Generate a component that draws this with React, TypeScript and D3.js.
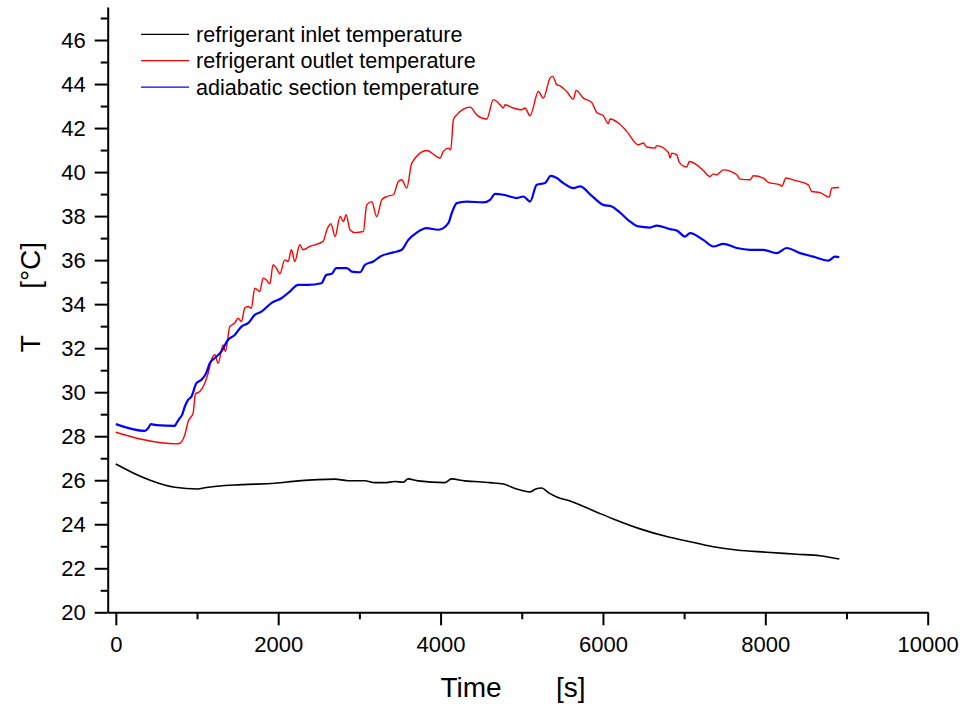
import React, { useEffect, useRef } from 'react';
import * as d3 from 'd3';

// time [s] / temperature [°C]
const inletTime = [0, 315, 727, 1013, 1096, 1547, 1958, 2245, 2697, 2860, 3066, 3190, 3313, 3436, 3538, 3600, 3723, 4052, 4133, 4298, 4421, 4609, 4773, 4938, 5102, 5164, 5246, 5328, 5431, 5595, 5924, 6128, 6457, 6786, 7032, 7360, 7648, 8017, 8387, 8673, 8911];
const inletTemp = [26.74, 26.16, 25.68, 25.6, 25.66, 25.8, 25.86, 25.97, 26.05, 25.98, 25.98, 25.89, 25.89, 25.94, 25.91, 26.06, 25.97, 25.89, 26.06, 25.97, 25.94, 25.89, 25.83, 25.6, 25.47, 25.59, 25.65, 25.44, 25.24, 25.06, 24.55, 24.24, 23.79, 23.44, 23.24, 22.98, 22.83, 22.73, 22.64, 22.57, 22.42];

const outletTime = [0, 315, 747, 788, 850, 890, 952, 980, 1034, 1096, 1137, 1178, 1219, 1260, 1321, 1350, 1404, 1465, 1506, 1547, 1588, 1630, 1670, 1711, 1773, 1814, 1855, 1897, 1937, 1978, 2020, 2081, 2122, 2163, 2204, 2266, 2307, 2389, 2553, 2600, 2650, 2700, 2762, 2803, 2836, 2885, 2947, 3049, 3090, 3152, 3213, 3276, 3337, 3419, 3480, 3522, 3584, 3645, 3830, 3994, 4034, 4096, 4125, 4158, 4200, 4281, 4364, 4446, 4569, 4650, 4733, 4773, 4794, 4897, 5000, 5040, 5102, 5205, 5266, 5348, 5382, 5431, 5472, 5554, 5636, 5669, 5759, 5862, 5924, 6005, 6067, 6087, 6190, 6293, 6436, 6498, 6539, 6642, 6662, 6806, 6827, 6848, 6909, 6941, 7032, 7064, 7155, 7237, 7319, 7360, 7401, 7483, 7648, 7689, 7812, 7852, 7975, 8037, 8181, 8202, 8254, 8366, 8530, 8571, 8673, 8788, 8817, 8911];
const outletTemp = [28.18, 27.86, 27.65, 27.68, 28.06, 28.66, 29.05, 29.92, 30.03, 30.41, 30.86, 31.47, 31.7, 31.32, 32.15, 31.85, 32.98, 33.14, 33.36, 33.21, 33.82, 33.89, 33.82, 34.73, 34.57, 35.18, 35.1, 34.92, 35.79, 35.64, 35.38, 36.01, 35.94, 36.47, 35.94, 36.7, 36.47, 36.62, 36.85, 37.38, 37.65, 37.07, 37.98, 37.75, 38.06, 37.38, 37.25, 37.3, 38.51, 38.66, 37.98, 38.74, 38.89, 38.97, 39.57, 39.65, 39.27, 40.41, 40.98, 40.64, 40.94, 41.09, 41.01, 42.38, 42.6, 42.86, 42.95, 42.6, 42.41, 43.29, 43.06, 42.91, 43.06, 42.91, 42.83, 42.91, 42.56, 43.66, 43.36, 44.27, 44.35, 43.97, 43.92, 43.66, 43.32, 43.71, 43.36, 43.16, 42.71, 42.56, 42.2, 42.41, 42.23, 41.85, 41.24, 41.32, 41.14, 41.09, 41.2, 40.89, 40.64, 40.86, 40.78, 40.44, 40.23, 40.48, 40.33, 40.07, 39.8, 39.92, 39.88, 40.1, 39.88, 39.68, 39.65, 39.83, 39.73, 39.53, 39.42, 39.35, 39.73, 39.62, 39.42, 39.12, 39.07, 38.86, 39.27, 39.3];

const adiabaticTime = [0, 357, 398, 431, 500, 727, 747, 788, 816, 850, 890, 931, 993, 1054, 1116, 1157, 1219, 1301, 1383, 1465, 1547, 1630, 1711, 1793, 1916, 2039, 2143, 2245, 2368, 2532, 2594, 2660, 2715, 2845, 2906, 3009, 3070, 3173, 3255, 3419, 3522, 3603, 3707, 3830, 3973, 4096, 4138, 4200, 4323, 4528, 4610, 4672, 4773, 4938, 5020, 5102, 5185, 5287, 5357, 5431, 5513, 5636, 5718, 5862, 6005, 6108, 6211, 6334, 6436, 6580, 6662, 6827, 6909, 7012, 7073, 7237, 7360, 7483, 7648, 7812, 7975, 8140, 8263, 8427, 8591, 8776, 8858, 8911];
const adiabaticTemp = [28.55, 28.24, 28.36, 28.55, 28.5, 28.47, 28.59, 28.82, 28.97, 29.35, 29.65, 29.8, 30.41, 30.56, 30.89, 31.32, 31.55, 31.85, 32.38, 32.6, 32.98, 33.14, 33.51, 33.66, 34.05, 34.27, 34.57, 34.88, 34.88, 34.95, 35.33, 35.38, 35.64, 35.64, 35.48, 35.45, 35.79, 35.94, 36.16, 36.35, 36.47, 36.92, 37.25, 37.45, 37.38, 37.68, 38.14, 38.59, 38.66, 38.62, 38.74, 39.01, 38.97, 38.82, 38.89, 38.66, 39.42, 39.5, 39.83, 39.73, 39.5, 39.27, 39.35, 38.92, 38.51, 38.44, 38.16, 37.75, 37.53, 37.48, 37.57, 37.41, 37.35, 37.07, 37.23, 36.92, 36.62, 36.74, 36.55, 36.47, 36.47, 36.32, 36.55, 36.32, 36.16, 35.98, 36.16, 36.14];

const seriesNames = ['refrigerant inlet temperature', 'refrigerant outlet temperature', 'adiabatic section temperature'];
const xMajorTicks = [0, 2000, 4000, 6000, 8000, 10000];
const xMinorTicks = [1000, 3000, 5000, 7000, 9000];
const yMajorTicks = [20, 22, 24, 26, 28, 30, 32, 34, 36, 38, 40, 42, 44, 46];
const yMinorTicks = [21, 23, 25, 27, 29, 31, 33, 35, 37, 39, 41, 43, 45, 47];

const App: React.FC = () => {
    const ref = useRef<SVGSVGElement>(null);
    const width = 966;
    const height = 706;

    useEffect(() => {
        const svg = d3.select(ref.current);
        svg.selectAll("*").remove();

        const font = "'Liberation Sans', Arial, sans-serif";
        const x = d3.scaleLinear().domain([-100, 10000]).range([107.7, 927.7]);
        const y = d3.scaleLinear().domain([20, 47.5]).range([612.3, 7]);

        const series = [
            { time: inletTime, temp: inletTemp, color: '#000000', w: 1.6 },
            { time: outletTime, temp: outletTemp, color: '#ff0000', w: 1.4 },
            { time: adiabaticTime, temp: adiabaticTemp, color: '#0000ff', w: 2.2 },
        ];

        const line = d3.line<[number, number]>()
            .x(d => x(d[0]))
            .y(d => y(d[1]))
            .curve(d3.curveMonotoneX);

        series.forEach(s => {
            svg.append("path")
                .attr("d", line(s.time.map((t, i) => [t, s.temp[i]] as [number, number])))
                .attr("fill", "none")
                .attr("stroke", s.color)
                .attr("stroke-width", s.w)
                .attr("stroke-linejoin", "round");
        });

        // x axis
        const gx = svg.append("g").attr("transform", `translate(0, ${y(20)})`);
        gx.call(d3.axisBottom(x).tickValues(xMajorTicks).tickSize(13).tickSizeOuter(0).tickPadding(11).tickFormat(d3.format("d")));
        gx.append("g").call(d3.axisBottom(x).tickValues(xMinorTicks).tickSize(7).tickSizeOuter(0).tickFormat(() => ""))
            .select(".domain").remove();

        // y axis
        const gy = svg.append("g").attr("transform", `translate(${x(-100)}, 0)`);
        gy.call(d3.axisLeft(y).tickValues(yMajorTicks).tickSize(13).tickSizeOuter(0).tickPadding(9).tickFormat(d3.format("d")));
        gy.append("g").call(d3.axisLeft(y).tickValues(yMinorTicks).tickSize(7).tickSizeOuter(0).tickFormat(() => ""))
            .select(".domain").remove();

        svg.selectAll(".domain, .tick line")
            .attr("stroke", "#000")
            .attr("stroke-width", 2);
        svg.selectAll(".tick text")
            .attr("font-family", font)
            .attr("font-size", 22)
            .attr("fill", "#000");

        // axis titles
        svg.append("text")
            .attr("x", 513)
            .attr("y", 697)
            .attr("text-anchor", "middle")
            .attr("font-family", font)
            .attr("font-size", 28)
            .style("white-space", "pre")
            .text("Time       [s]");

        svg.append("text")
            .attr("transform", `translate(40, 297) rotate(-90)`)
            .attr("text-anchor", "middle")
            .attr("font-family", font)
            .attr("font-size", 28)
            .style("white-space", "pre")
            .text("T      [°C]");

        // legend
        const legend = svg.append("g")
            .selectAll(".legend")
            .data(seriesNames)
            .enter()
            .append("g")
            .attr("class", "legend")
            .attr("transform", (d, i) => `translate(141, ${34.3 + i * 26.4})`);

        legend.append("line")
            .attr("x1", 0)
            .attr("x2", 48)
            .attr("stroke", (d, i) => series[i].color)
            .attr("stroke-width", 1.3);

        legend.append("text")
            .attr("x", 55)
            .attr("y", 7.5)
            .attr("font-family", font)
            .attr("font-size", 21.6)
            .text(d => d);
    }, []);

    return <svg ref={ref} width={width} height={height}
        style={{ position: 'absolute', left: 0, top: 0, background: '#fff' }}></svg>;
};

export default App;
